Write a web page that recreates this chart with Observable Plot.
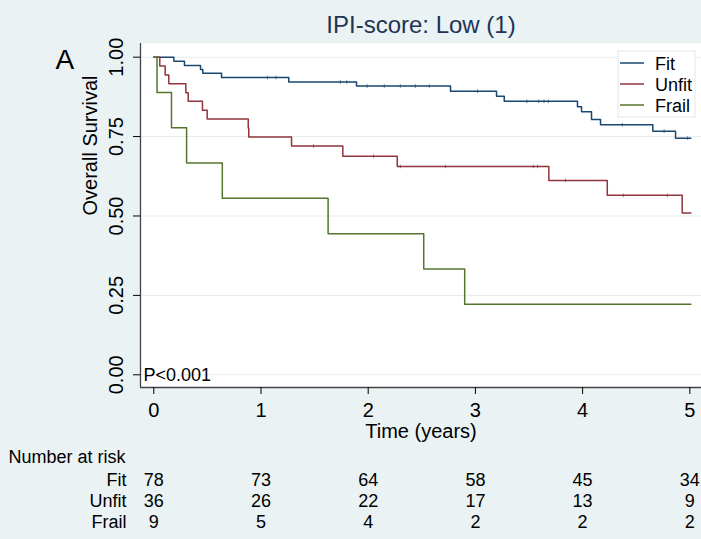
<!DOCTYPE html>
<html><head><meta charset="utf-8">
<script src="https://cdn.jsdelivr.net/npm/d3@7"></script>
<script src="https://cdn.jsdelivr.net/npm/@observablehq/plot@0.6"></script>
<style>html,body{margin:0;padding:0;background:#eaf2f3;}</style>
</head><body><div id="chart"></div><script>
// ---- data ----
const groups = ["Fit", "Unfit", "Frail"];
const groupColors = ["#1a476f", "#90353b", "#55752f"];
const timeTicks = [0, 1, 2, 3, 4, 5];
const survTicks = [0, 0.25, 0.5, 0.75, 1];

const fitTime = [0, 0.187, 0.286, 0.436, 0.457, 0.632, 1.259, 1.891, 2.768, 3.197, 3.269, 3.952, 3.99, 4.083, 4.167, 4.655, 4.867, 5.01];
const fitSurv = [1, 0.987, 0.974, 0.961, 0.949, 0.936, 0.922, 0.909, 0.893, 0.877, 0.861, 0.844, 0.828, 0.804, 0.787, 0.767, 0.745, 0.745];
const unfitTime = [0, 0.056, 0.106, 0.14, 0.299, 0.321, 0.454, 0.498, 0.881, 0.886, 1.285, 1.763, 2.271, 3.685, 4.23, 4.929, 5.01];
const unfitSurv = [1, 0.972, 0.944, 0.916, 0.888, 0.861, 0.833, 0.805, 0.777, 0.749, 0.720, 0.688, 0.656, 0.612, 0.565, 0.509, 0.509];
const frailTime = [0, 0.03, 0.165, 0.306, 0.639, 1.626, 2.518, 2.90, 5.01];
const frailSurv = [1, 0.889, 0.778, 0.667, 0.556, 0.444, 0.333, 0.222, 0.222];

const fitCensor = [1.06, 1.14, 1.74, 1.80, 1.99, 2.15, 2.30, 2.44, 2.57, 3.02, 3.48, 3.59, 3.64, 3.68, 4.37, 4.76, 4.98];
const unfitCensor = [1.49, 2.05, 2.30, 2.72, 3.54, 3.58, 3.84, 4.38, 4.79];
const frailCensor = [];

const riskFit = [78, 73, 64, 58, 45, 34];
const riskUnfit = [36, 26, 22, 17, 13, 9];
const riskFrail = [9, 5, 4, 2, 2, 2];

const titleText = "IPI-score: Low (1)";
const panelLetter = "A";
const pText = "P<0.001";

// ---- build tables ----
const curves = [[fitTime, fitSurv], [unfitTime, unfitSurv], [frailTime, frailSurv]];
const censors = [fitCensor, unfitCensor, frailCensor];
const risks = [riskFit, riskUnfit, riskFrail];

const lineRows = curves.flatMap(([ts, ss], g) => ts.map((t, i) => ({group: groups[g], t, s: ss[i]})));
function survAt(ts, ss, t) { let k = 0; for (let i = 0; i < ts.length; i++) if (ts[i] <= t) k = i; return ss[k]; }
const censorRows = censors.flatMap((cs, g) => cs.map(t => ({group: groups[g], t, s: survAt(curves[g][0], curves[g][1], t)})));

const xDomain = [-0.124, 5.109];
const yDomain = [-0.040, 1.043];
const colorScale = {domain: groups, range: groupColors};

const tickSymbol = {draw(ctx, size) { const r = Math.sqrt(size / Math.PI); ctx.moveTo(0, -r); ctx.lineTo(0, r); }};

const riskMarks = groups.flatMap((g, gi) => [
  Plot.text([g], {frameAnchor: "bottom-left", textAnchor: "end", lineAnchor: "bottom", dx: -14, dy: 98 + gi * 21, fontSize: 18}),
  Plot.text(timeTicks, {x: d => d, text: (d, i) => String(risks[gi][i]), frameAnchor: "bottom", lineAnchor: "bottom", dy: 98 + gi * 21, fontSize: 18})
]);

const chart = Plot.plot({
  width: 701, height: 539,
  marginLeft: 140, marginRight: 0, marginTop: 43, marginBottom: 152,
  style: {background: "#eaf2f3", fontFamily: "'Liberation Sans', Arial, sans-serif", fontSize: "20px", color: "#000", overflow: "visible"},
  x: {domain: xDomain},
  y: {domain: yDomain},
  color: colorScale,
  marks: [
    Plot.frame({fill: "white", stroke: null}),
    Plot.gridY(survTicks, {stroke: "#e3ecee", strokeOpacity: 1}),
    Plot.line(lineRows, {x: "t", y: "s", z: "group", stroke: "group", curve: "step-after", strokeWidth: 1.5}),
    Plot.dot(censorRows, {x: "t", y: "s", stroke: "group", symbol: tickSymbol, r: 1.8, strokeWidth: 1, strokeOpacity: 0.7}),
    Plot.ruleX([xDomain[0]], {stroke: "#444", strokeWidth: 1.3}),
    Plot.ruleY([yDomain[0]], {stroke: "#444", strokeWidth: 1.3}),
    Plot.axisX({ticks: timeTicks, tickFormat: d3.format("d"), tickSize: 7, tickPadding: 8, label: null, fontSize: 20}),
    Plot.axisY({ticks: survTicks, tickFormat: d3.format(".2f"), tickSize: 7, tickPadding: 11, tickRotate: -90, label: null, fontSize: 20}),
    Plot.text(["Overall Survival"], {frameAnchor: "left", rotate: -90, dx: -50, fontSize: 20}),
    Plot.text(["Time (years)"], {frameAnchor: "bottom", lineAnchor: "bottom", dy: 50, fontSize: 20}),
    Plot.text([titleText], {frameAnchor: "top", lineAnchor: "bottom", dy: -11, fontSize: 24, fill: "#1f3354"}),
    Plot.text([panelLetter], {frameAnchor: "top-left", textAnchor: "start", lineAnchor: "bottom", dx: -85, dy: 25, fontSize: 28}),
    Plot.text([pText], {frameAnchor: "bottom-left", textAnchor: "start", lineAnchor: "bottom", dx: 3, dy: -7, fontSize: 18}),
    Plot.text(["Number at risk"], {frameAnchor: "bottom-left", textAnchor: "start", lineAnchor: "bottom", dx: -132, dy: 75, fontSize: 18}),
    ...riskMarks
  ]
});
document.getElementById("chart").appendChild(chart);

// ---- legend (inside plot, top-right) ----
const svg = d3.select(chart);
const lg = svg.append("g").attr("font-family", "'Liberation Sans', Arial, sans-serif").attr("font-size", 18).attr("text-anchor", "start");
lg.append("rect").attr("x", 618).attr("y", 51).attr("width", 77).attr("height", 66).attr("fill", "white").attr("stroke", "#dfe8ea");
groups.forEach((g, i) => {
  lg.append("line").attr("x1", 620).attr("x2", 644).attr("y1", 63 + i * 21).attr("y2", 63 + i * 21).attr("stroke", groupColors[i]).attr("stroke-width", 1.5);
  lg.append("text").attr("x", 655).attr("y", 70 + i * 21).attr("fill", "#000").attr("text-anchor", "start").text(g);
});
</script></body></html>
